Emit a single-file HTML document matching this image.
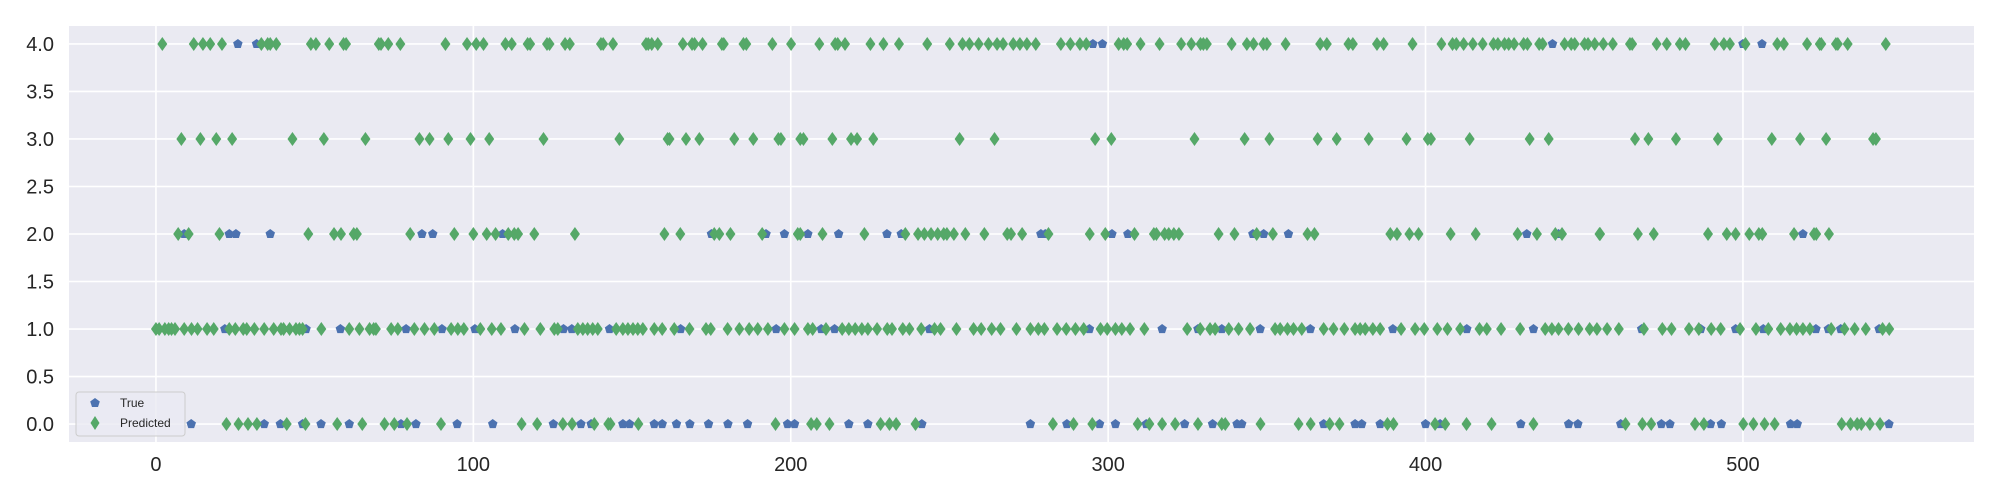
<!DOCTYPE html>
<html><head><meta charset="utf-8">
<style>
html,body{margin:0;padding:0;background:#fff;}
svg{display:block;font-family:"Liberation Sans",Arial,sans-serif;}
</style></head>
<body>
<svg id="chart" width="2000" height="500" viewBox="0 0 2000 500" xmlns="http://www.w3.org/2000/svg">
<rect x="0" y="0" width="2000" height="500" fill="#ffffff"/>
<rect x="69" y="26" width="1905" height="416" fill="#eaeaf2"/>
<g id="grid"></g>
<g id="ticks"></g>
<g id="trueMarks"></g>
<g id="predMarks"></g>
<g>
<rect x="76" y="392" width="109" height="44" rx="3" fill="#eaeaf2" fill-opacity="0.8" stroke="#cccccc" stroke-width="1"/>
<polygon points="95,398 99.8,401.5 98,407 92,407 90.2,401.5" fill="#4c72b0"/>
<text x="120" y="407" font-size="12" fill="#262626">True</text>
<polygon points="95,416 99.5,423 95,430 90.5,423" fill="#55a868"/>
<text x="120" y="427" font-size="12" fill="#262626">Predicted</text>
</g>
</svg>
<script>
const xTicks=[0,100,200,300,400,500];
const yTicks=[0,0.5,1,1.5,2,2.5,3,3.5,4];
const pred4=[2,11.9,14.8,17.1,20.8,33.2,35.2,36,37.9,48.8,50.4,54.6,59.1,59.9,70.2,70.9,73.2,77,91.2,98,100.9,103.2,110.1,112.1,117.1,117.9,123.2,124,128.9,130.4,140.2,140.9,144,154.4,155.1,156.2,158.1,166,168.9,169.7,172.2,178.3,178.9,185.1,186,194.2,200.1,209,214,214.8,217.1,225.1,229.2,234.1,243,250.1,254.1,256.3,259.2,262.3,265,266.9,270.1,272.2,274.4,277.2,285.1,288.1,291.1,293.1,303.3,304.9,306,310.2,316.2,323,326.2,329.1,330,331.1,338.9,343.7,345.8,348.9,350,355.9,366.8,368.9,375.7,377.1,384.7,386.8,395.9,405,408.5,409.7,412,414.9,418,421.4,422.8,424.9,426.2,427.9,430.9,432.1,435.8,436.9,443.8,445.9,447,450.1,451.2,453.3,456,459,464.4,465.1,472.8,476,480.1,481.9,491.1,494,495.9,500.8,510.8,512.9,520.2,524.2,524.7,529.3,529.9,533,545];
const true4=[25.8,31.7,295.2,298.2,440,500,506];
const pred3=[8,14,19,24,43,52.9,66,83,86.2,92.1,99.1,105,122.1,146,161.2,161.8,167,171.2,182.2,188.2,196.1,196.9,203,204,213.1,219,220.9,226,253.2,264.2,295.9,301,327.2,343,350.8,366,372,382.1,394,400.7,401.7,413.9,432.8,438.8,466,470.2,478.9,492.1,509.1,518,526.2,541,541.9];
const true3=[];
const pred2=[7,10.3,20,48,56.1,58.3,62.3,63.3,80.1,94,100,104.2,107,111,112.9,114.1,119.2,132,160.2,165.2,175.9,177.5,181,191,202.2,203,210,223.2,236.1,240.1,242.1,244.2,246.3,248.2,249.2,251.4,255,261,268.2,269.4,272.9,281.2,294.2,299.1,308.3,314.4,315.2,317.8,319.1,320.7,322.3,334.8,339.8,346.8,351.9,362.8,365,388.9,391,394.9,397.8,407.9,415.8,429,435.1,440.9,443,454.8,455,466.9,471.9,489,494.9,497.7,502,505,506.1,516.1,522.4,523.1,527.1];
const true2=[8.9,23.1,25.2,36,83.8,87.2,109.2,175,192.2,198,205.4,215.1,230.3,234.8,278.8,280.2,301.2,306.2,345.6,349,356.8,431.9,441.9,518.9];
const pred1=[0,1,2.8,4,4.9,6,8.9,11.2,13.1,16.1,18.2,23.1,25,27.5,28.6,31,34.1,37.1,39.4,40.2,42.1,44.1,45.2,46.2,52.1,60.9,64.1,67.3,68.6,69.3,74.1,76.2,81.4,84.6,87.7,93,95.1,97,102.2,105.8,108.7,116.1,121.1,125.5,126.6,132.9,134.5,136,137.6,139.2,145,147.1,148.7,150.3,151.8,153.4,157,159.5,163.3,168.1,173.3,174.8,180.1,183.8,186.9,189.6,192.8,198,201.2,205.4,206.9,211.1,216.2,218.3,220.3,222.4,224.3,227.2,230.4,231.9,235.3,237.4,241.1,245.3,247.2,252.2,257.6,260,263.3,266.1,271.1,275.5,278,279.9,283.9,286.8,289.7,292.3,297.6,299.7,302.3,304.3,306.9,311.4,324.9,329,332.1,333.7,338,341.1,344.7,352.6,354.2,356.5,358.4,361,367.9,371,374.4,377.8,379.4,381,383.4,385.7,392.3,396.7,399.6,403.7,406.9,410.9,417,419.3,423.8,429.8,437.7,439.8,441.9,445,448.2,451.7,454,457.2,460.9,468.8,474.6,477.5,483,486.1,490,493,499.1,504.1,508,511.9,514.8,516.9,518.9,521.1,527.8,532,535.2,538.7,544,546.1];
const true1=[21.7,47.3,58.1,78.8,90.1,100.5,113.1,128.4,131,142.9,165.3,195.4,209.6,213.8,243.7,294.1,317,328.3,335.8,347.9,363.7,389.7,413,434,468.1,486.7,497.7,506.4,523,526.9,530.8,542.9];
const pred0=[22.2,26,29,31.8,41.2,47.1,57.1,65,72,75.1,79.1,89.8,115.2,120.1,128.2,131.1,138.1,142.5,143.2,152,195.2,206.4,208.2,212.2,228.3,231.1,233.2,239.3,282.6,289.1,295,309.3,313,317,321.1,328.3,335.8,336.9,348,360,363.8,369.8,372.9,388,389.9,403,406.2,412.9,420.8,434,463,468.3,471.1,484.9,487.7,500.1,503.3,506.8,510,531.1,533.9,536,537.3,540,543.2];
const true0=[11.1,34.1,39.2,46.2,52,60.9,77.2,81.9,94.9,106.1,125.2,133.9,137.1,147.1,149.2,157,159.5,164,168.2,174.1,180.2,186.4,199,201.2,218.3,224.3,241.3,275.5,287,297.3,302.3,312,324.1,332.9,340.6,342.1,367.9,377.8,379.9,385.7,400,404.6,430,445.1,448,461.5,474.3,477,489.8,493.2,515,517.1,546];

const NS='http://www.w3.org/2000/svg';
const X0=69,X1=1974,Y0=26,Y1=442;
const xMin=-27.4,xMax=572.8,yMin=-0.189,yMax=4.189;
function sx(v){return X0+(v-xMin)/(xMax-xMin)*(X1-X0);}
function sy(v){return Y1-(v-yMin)/(yMax-yMin)*(Y1-Y0);}
function mk(tag,attrs){const e=document.createElementNS(NS,tag);for(const k in attrs)e.setAttribute(k,attrs[k]);return e;}
const grid=document.getElementById('grid'),ticks=document.getElementById('ticks');
yTicks.forEach(t=>{
  const l=mk('line',{x1:X0,x2:X1,y1:sy(t),y2:sy(t),stroke:'#ffffff','stroke-width':1.6});
  
  
  grid.appendChild(l);
  const tx=mk('text',{x:54,y:sy(t)+7,'text-anchor':'end','font-size':20,fill:'#262626'});
  tx.textContent=t.toFixed(1);
  
  
  ticks.appendChild(tx);
});
xTicks.forEach(t=>{
  const l=mk('line',{x1:sx(t),x2:sx(t),y1:Y0,y2:Y1,stroke:'#ffffff','stroke-width':1.6});
  
  
  grid.appendChild(l);
  const tx=mk('text',{x:sx(t),y:471,'text-anchor':'middle','font-size':20,fill:'#262626'});
  tx.textContent=String(t);
  
  
  ticks.appendChild(tx);
});
const tg=document.getElementById('trueMarks'),pg=document.getElementById('predMarks');
function pent(cx,cy,r){let p=[];for(let i=0;i<5;i++){const a=-Math.PI/2+i*2*Math.PI/5;p.push((cx+r*Math.cos(a)).toFixed(1)+','+(cy+r*Math.sin(a)).toFixed(1));}return p.join(' ');}
[[true0,0],[true1,1],[true2,2],[true3,3],[true4,4]].forEach(([arr,v])=>{
  arr.forEach(i=>{
    const p=mk('polygon',{points:pent(sx(i),sy(v),5),fill:'#4c72b0'});
    
    
    tg.appendChild(p);
  });
});
[[pred0,0],[pred1,1],[pred2,2],[pred3,3],[pred4,4]].forEach(([arr,v])=>{
  arr.forEach(i=>{
    const cx=sx(i),cy=sy(v);
    const p=mk('polygon',{points:`${cx},${cy-7} ${cx+5},${cy} ${cx},${cy+7} ${cx-5},${cy}`,fill:'#55a868'});
    
    
    pg.appendChild(p);
  });
});
</script>
</body></html>
